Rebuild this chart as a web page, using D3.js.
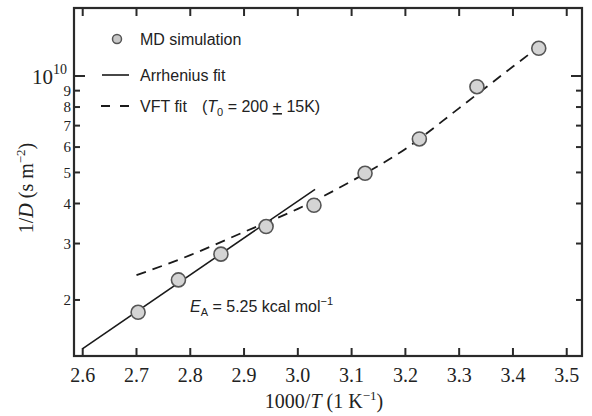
<!DOCTYPE html>
<html>
<head>
<meta charset="utf-8">
<script src="https://cdn.jsdelivr.net/npm/d3@7"></script>
<style>
  body { margin: 0; background: #fff; }
  .serif { font-family: "Liberation Serif", "Times New Roman", serif; fill: #222; }
  .sans { font-family: "Liberation Sans", Arial, sans-serif; fill: #222; }
</style>
</head>
<body>
<svg id="chart"></svg>
<script>
// MD simulation points (1000/T, 1/D in s m^-2)
const simX = [2.703, 2.778, 2.857, 2.941, 3.030, 3.125, 3.226, 3.333, 3.448]
const simY = [1.83e9, 2.31e9, 2.78e9, 3.39e9, 3.95e9, 4.97e9, 6.36e9, 9.26e9, 1.22e10]

// Arrhenius fit, end points
const arrX = [2.6, 3.032]
const arrY = [1.41e9, 4.43e9]

// VFT fit curve
const vftX = [2.70, 2.80, 2.90, 3.00, 3.10, 3.20, 3.30, 3.40, 3.45]
const vftY = [2.39e9, 2.76e9, 3.26e9, 3.85e9, 4.70e9, 5.92e9, 7.94e9, 1.07e10, 1.24e10]

// ticks
const xTicks = [2.6, 2.7, 2.8, 2.9, 3.0, 3.1, 3.2, 3.3, 3.4, 3.5]
const xTickLabels = ['2.6', '2.7', '2.8', '2.9', '3.0', '3.1', '3.2', '3.3', '3.4', '3.5']
const yMinorTicks = [2e9, 3e9, 4e9, 5e9, 6e9, 7e9, 8e9, 9e9]
const yMinorLabels = ['2', '3', '4', '5', '6', '7', '8', '9']
const yMajorTicks = [1e10]

const width = 592, height = 416
const mLeft = 74, mRight = 582, mTop = 8, mBottom = 356

const svg = d3.select('#chart').attr('width', width).attr('height', height)

var x = d3.scaleLinear().domain([2.5838, 3.5284]).range([mLeft, mRight])
var y = d3.scaleLog().domain([1.337e9, 1.63e10]).range([mBottom, mTop])

const ink = '#2a2a2a'

// FRAME
svg.append('rect')
    .attr('x', mLeft).attr('y', mTop)
    .attr('width', mRight - mLeft).attr('height', mBottom - mTop)
    .attr('fill', 'none').attr('stroke', ink).attr('stroke-width', 2.2)

// x ticks, inward on bottom and top
var xt = svg.append('g').attr('class', 'xticks')
xt.selectAll('.tb').data(xTicks).enter().append('line')
    .attr('x1', d => x(d)).attr('x2', d => x(d))
    .attr('y1', mBottom).attr('y2', mBottom - 8)
    .attr('stroke', ink).attr('stroke-width', 2)
xt.selectAll('.tt').data(xTicks).enter().append('line')
    .attr('x1', d => x(d)).attr('x2', d => x(d))
    .attr('y1', mTop).attr('y2', mTop + 8)
    .attr('stroke', ink).attr('stroke-width', 2)
xt.selectAll('text').data(xTicks).enter().append('text')
    .attr('class', 'serif')
    .attr('x', d => x(d)).attr('y', 382)
    .attr('text-anchor', 'middle')
    .style('font-size', '20px')
    .text((d, i) => xTickLabels[i])

// y ticks, inward on left and right
var yt = svg.append('g').attr('class', 'yticks')
function yTickLines(data, len) {
    yt.selectAll(null).data(data).enter().append('line')
        .attr('x1', mLeft).attr('x2', mLeft + len)
        .attr('y1', d => y(d)).attr('y2', d => y(d))
        .attr('stroke', ink).attr('stroke-width', 2)
    yt.selectAll(null).data(data).enter().append('line')
        .attr('x1', mRight).attr('x2', mRight - len)
        .attr('y1', d => y(d)).attr('y2', d => y(d))
        .attr('stroke', ink).attr('stroke-width', 2)
}
yTickLines(yMinorTicks, 6)
yTickLines(yMajorTicks, 11)

yt.selectAll('.ml').data(yMinorTicks).enter().append('text')
    .attr('class', 'serif')
    .attr('x', 71).attr('y', d => y(d))
    .attr('dy', '0.34em')
    .attr('text-anchor', 'end')
    .style('font-size', '15px')
    .text((d, i) => yMinorLabels[i])

var major = yt.append('text')
    .attr('class', 'serif')
    .attr('x', 67).attr('y', y(1e10) + 8)
    .attr('text-anchor', 'end')
    .style('font-size', '21px')
major.append('tspan').text('10')
major.append('tspan').attr('dy', -10).style('font-size', '14px').text('10')

// AXIS TITLES
var xTitle = svg.append('text')
    .attr('class', 'serif')
    .attr('x', (mLeft + mRight) / 2 - 4).attr('y', 408)
    .attr('text-anchor', 'middle')
    .style('font-size', '20px')
xTitle.append('tspan').text('1000/')
xTitle.append('tspan').style('font-style', 'italic').text('T')
xTitle.append('tspan').text(' (1 K')
xTitle.append('tspan').attr('dy', -8).style('font-size', '13px').text('\u22121')
xTitle.append('tspan').attr('dy', 8).text(')')

var yTitle = svg.append('text')
    .attr('class', 'serif')
    .attr('transform', 'translate(33,' + 188 + ') rotate(-90)')
    .attr('text-anchor', 'middle')
    .style('font-size', '20px')
yTitle.append('tspan').text('1/')
yTitle.append('tspan').style('font-style', 'italic').text('D')
yTitle.append('tspan').text(' (s m')
yTitle.append('tspan').attr('dy', -8).style('font-size', '13px').text('\u22122')
yTitle.append('tspan').attr('dy', 8).text(')')

// FIT LINES
var line = d3.line().x(d => x(d[0])).y(d => y(d[1]))

svg.append('path')
    .datum(d3.zip(arrX, arrY))
    .attr('d', line)
    .attr('fill', 'none').attr('stroke', '#1a1a1a').attr('stroke-width', 1.6)

svg.append('path')
    .datum(d3.zip(vftX, vftY))
    .attr('d', line.curve(d3.curveMonotoneX))
    .attr('fill', 'none').attr('stroke', '#1a1a1a').attr('stroke-width', 1.8)
    .attr('stroke-dasharray', '10,7')

// SIMULATION POINTS
svg.append('g').selectAll('circle').data(d3.zip(simX, simY)).enter().append('circle')
    .attr('cx', d => x(d[0])).attr('cy', d => y(d[1]))
    .attr('r', 7)
    .attr('fill', '#d4d4d4').attr('stroke', '#555').attr('stroke-width', 1.6)

// LEGEND
var lg = svg.append('g').attr('class', 'legend')
lg.append('circle').attr('cx', 117).attr('cy', 39).attr('r', 4.5)
    .attr('fill', '#c8c8c8').attr('stroke', '#555').attr('stroke-width', 1.5)
lg.append('text').attr('class', 'sans').attr('x', 140).attr('y', 45)
    .style('font-size', '16px').text('MD simulation')

lg.append('line').attr('x1', 102).attr('x2', 129).attr('y1', 75).attr('y2', 75)
    .attr('stroke', '#1a1a1a').attr('stroke-width', 1.6)
lg.append('text').attr('class', 'sans').attr('x', 140).attr('y', 81)
    .style('font-size', '16px').text('Arrhenius fit')

lg.append('line').attr('x1', 101).attr('x2', 129).attr('y1', 106).attr('y2', 106)
    .attr('stroke', '#1a1a1a').attr('stroke-width', 2)
    .attr('stroke-dasharray', '9,10')
lg.append('text').attr('class', 'sans').attr('x', 140).attr('y', 112)
    .style('font-size', '16px').text('VFT fit')
var vl = lg.append('text').attr('class', 'sans').attr('x', 202).attr('y', 112)
    .style('font-size', '16px')
vl.append('tspan').text('(')
vl.append('tspan').style('font-style', 'italic').text('T')
vl.append('tspan').attr('dy', 4).style('font-size', '11px').text('0')
vl.append('tspan').attr('dy', -4).text(' = 200 ')
vl.append('tspan').style('text-decoration', 'underline').text('+')
vl.append('tspan').text(' 15K)')

// ANNOTATION
var ann = svg.append('text').attr('class', 'sans').attr('x', 190).attr('y', 312)
    .style('font-size', '16px')
ann.append('tspan').style('font-style', 'italic').text('E')
ann.append('tspan').attr('dy', 4).style('font-size', '11px').text('A')
ann.append('tspan').attr('dy', -4).text(' = 5.25 kcal mol')
ann.append('tspan').attr('dy', -7).style('font-size', '11px').text('\u22121')
</script>
</body>
</html>
